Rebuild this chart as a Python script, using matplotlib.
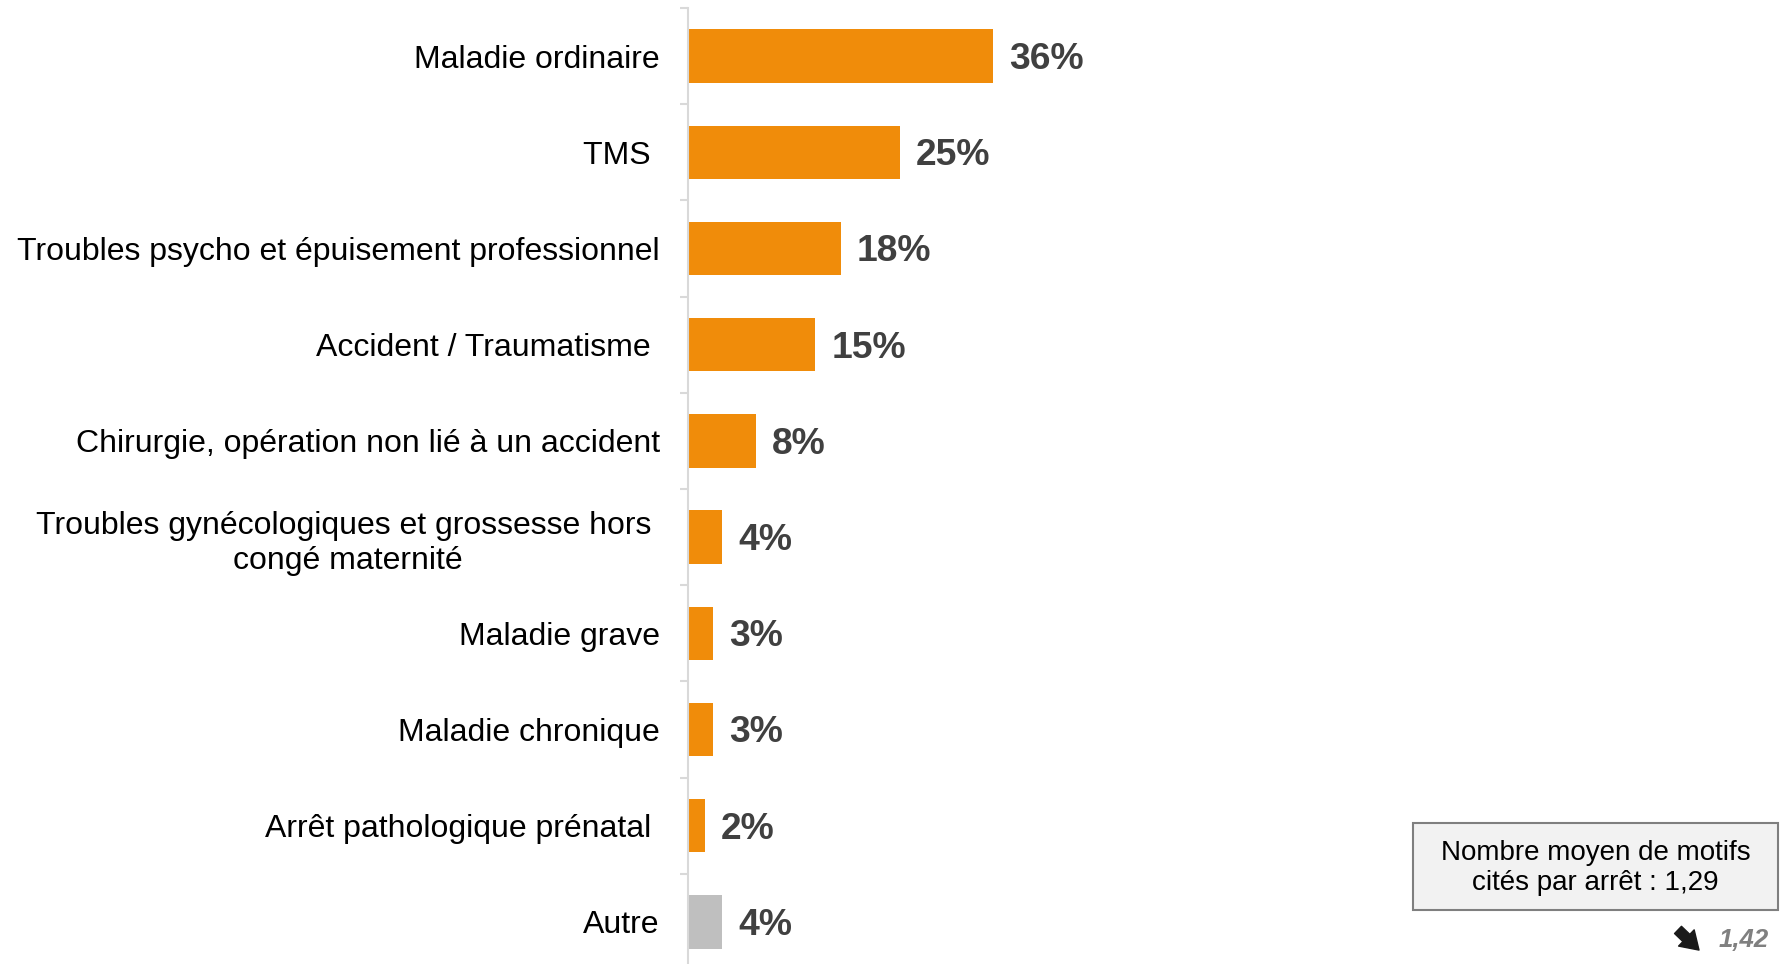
import matplotlib
matplotlib.use("Agg")
import matplotlib.pyplot as plt
from matplotlib.patches import Rectangle, FancyArrowPatch
import numpy as np

plt.rcParams['font.family'] = ['Liberation Sans', 'DejaVu Sans']

categories = [
    "Maladie ordinaire",
    "TMS ",
    "Troubles psycho et épuisement professionnel",
    "Accident / Traumatisme ",
    "Chirurgie, opération non lié à un accident",
    "Troubles gynécologiques et grossesse hors \ncongé maternité",
    "Maladie grave",
    "Maladie chronique",
    "Arrêt pathologique prénatal ",
    "Autre",
]
values = [36, 25, 18, 15, 8, 4, 3, 3, 2, 4]
value_labels = ["36%", "25%", "18%", "15%", "8%", "4%", "3%", "3%", "2%", "4%"]
bar_colors = ["#F08C0A"] * 9 + ["#BFBFBF"]

box_text = "Nombre moyen de motifs\ncités par arrêt : 1,29"
previous_value = "1,42"

W, H = 1780, 964
fig = plt.figure(figsize=(W / 100, H / 100), dpi=100)
ax = fig.add_axes([688 / W, -6 / H, 1 - 688 / W, 962 / H])

y = np.arange(len(categories))
ax.barh(y, values, height=0.555, color=bar_colors, zorder=2)
ax.set_ylim(len(categories) - 0.5, -0.5)
ax.set_xlim(0, 128.8)

for yi, v, lab in zip(y, values, value_labels):
    ax.annotate(lab, xy=(v, yi), xytext=(11.5, -2.5), textcoords='offset points',
                ha='left', va='center', fontsize=26.8, fontweight='bold',
                color='#404040')

ax.set_yticks(y)
ax.set_yticklabels(categories, fontsize=23.0, color='black', multialignment='center',
                   linespacing=1.22)
ax.tick_params(axis='y', which='major', length=0, pad=20.3)
ax.set_yticks(np.arange(-0.5, len(categories), 1), minor=True)
ax.tick_params(axis='y', which='minor', length=6, width=1.5, color='#D9D9D9')
ax.set_xticks([])

for s in ['top', 'right', 'bottom']:
    ax.spines[s].set_visible(False)
ax.spines['left'].set_color('#D9D9D9')
ax.spines['left'].set_linewidth(1.5)

# Info box
rect = Rectangle((1413 / W, 1 - 910 / H), 365 / W, 87 / H, transform=fig.transFigure,
                 facecolor='#F2F2F2', edgecolor='#7F7F7F', linewidth=1.5)
fig.add_artist(rect)
fig.text(1595.5 / W, 1 - 868 / H, box_text, ha='center', va='center',
         fontsize=20, color='black', linespacing=1.22)

# Trend arrow and previous value
arr = FancyArrowPatch((1676 / W, 1 - 928 / H), (1701 / W, 1 - 952 / H),
                      transform=fig.transFigure,
                      arrowstyle='simple,head_length=0.7,head_width=0.9,tail_width=0.4',
                      mutation_scale=18, color='#1A1A1A')
fig.add_artist(arr)
fig.text(1719 / W, 1 - 947 / H, previous_value, ha='left', va='baseline',
         fontsize=18.5, fontweight='bold', fontstyle='italic', color='#808080')

fig.savefig('out.png', dpi=100, facecolor='white')
